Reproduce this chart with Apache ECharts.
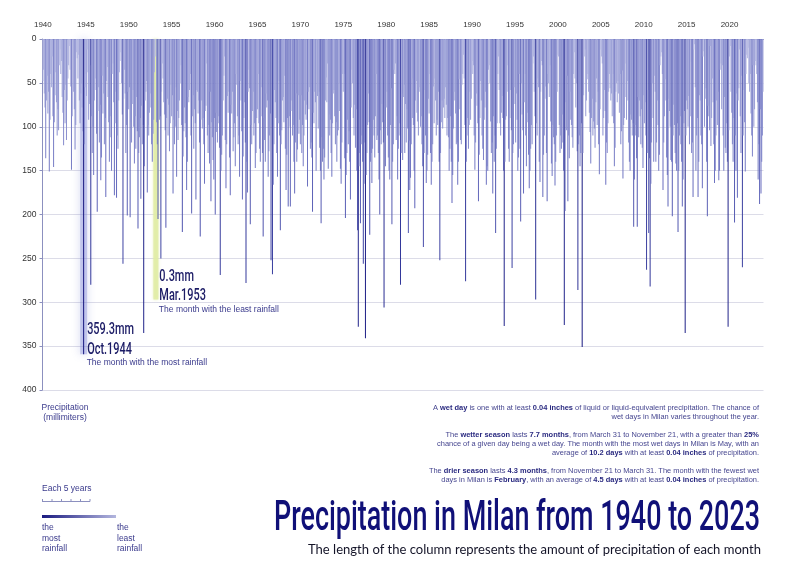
<!DOCTYPE html>
<html><head><meta charset="utf-8">
<script src="https://cdn.jsdelivr.net/npm/echarts@6/dist/echarts.min.js"></script>
<style>html,body{margin:0;padding:0;background:#fff}#c{width:800px;height:587px}</style>
</head><body><div id="c"></div><script>
const startYear = 1940;
const endYear = 2023;
const monthAbbr = ['Jan','Feb','Mar','Apr','May','Jun','Jul','Aug','Sep','Oct','Nov','Dec'];
const yMax = 400, yStep = 50;

const rain1940s = [
48,35,62,78,136,70,42,85,60,151,92,40,
55,20,88,146,95,64,38,72,110,80,104,30,
12,40,25,66,84,121,58,96,52,115,70,45,
30,8,35,54,149,88,24,60,80,126,98,15,
22,45,18,70,96,62,50,78,105,359.3,120,55,
40,65,12,38,92,74,30,280,88,130,100,155,
70,58,45,108,197,82,55,118,75,161,135,42,
85,62,120,90,180,48,32,66,95,140,112,88,
150,40,28,72,178,96,60,181,110,125,70,38,
25,15,50,86,256,68,35,62,130,98,201,60];
const rain1950s = [
80,55,203,95,118,74,58,100,142,88,125,66,
105,216,130,112,90,182,76,120,98,335,145,70,
60,48,175,98,110,84,62,78,120,140,108,92,
38,20,0.3,95,120,205,70,92,88,250,60,28,
45,72,86,104,215,90,68,110,75,128,96,52,
88,64,176,92,120,100,55,157,82,115,90,70,
50,30,98,220,134,105,78,96,112,172,140,66,
72,58,40,110,199,88,64,125,80,96,183,58,
60,85,70,118,225,92,70,102,90,120,165,82,
76,28,110,130,98,142,60,185,95,112,138,160];
const rain1960s = [
90,200,84,106,118,96,88,124,269,150,132,110,
70,42,20,115,170,120,65,84,60,135,178,75,
85,60,128,112,96,145,40,52,88,120,110,157,
48,70,105,183,134,90,72,118,278,140,175,60,
35,56,211,98,120,82,60,110,96,147,130,90,
80,40,96,125,140,88,55,130,225,90,115,140,
62,78,70,157,128,110,85,252,98,268,166,120,
58,72,90,130,157,96,48,110,218,120,104,70,
66,95,42,125,172,132,90,191,100,88,191,82,
70,110,98,140,176,118,62,140,126,64,108,92];
const rain1970s = [
120,64,130,98,145,110,70,86,92,75,168,60,
80,55,125,118,135,197,84,96,60,72,150,40,
65,102,60,124,150,210,112,140,125,160,135,70,
44,72,28,148,86,110,92,130,157,96,62,58,
88,120,95,140,110,104,50,82,148,165,118,40,
60,40,136,204,155,130,92,120,105,140,183,78,
35,50,90,110,75,124,80,150,218,328,145,130,
210,120,110,140,256,165,118,341,155,130,98,62,
95,223,140,130,164,125,92,110,135,88,40,115,
110,130,160,200,104,120,74,95,118,306,92,145];
const rain1980s = [
78,60,110,135,150,160,98,56,211,140,120,35,
40,28,115,88,160,125,110,96,280,130,62,138,
66,52,130,74,118,80,102,221,116,172,158,120,
45,90,98,150,193,70,48,84,94,110,55,60,
100,88,120,145,237,130,58,110,164,150,132,68,
85,40,130,166,140,120,54,96,45,70,110,92,
98,60,140,252,130,95,70,102,78,68,90,55,
75,110,90,112,150,125,88,140,187,155,102,60,
70,85,120,118,166,140,46,80,115,120,52,40,
18,45,98,276,140,110,90,125,98,60,92,68];
const rain1990s = [
25,40,30,110,149,118,62,76,96,185,132,90,
48,70,110,125,138,92,78,60,166,145,150,35,
30,50,94,130,118,176,88,140,110,221,125,96,
40,20,58,96,110,84,65,90,150,327,140,92,
88,60,30,125,140,90,58,104,261,130,120,55,
74,118,62,92,150,135,40,125,208,50,86,104,
176,72,40,110,145,95,84,132,170,150,125,98,
120,28,20,60,88,297,96,110,45,55,140,163,
60,25,30,180,132,110,68,54,130,185,40,50,
66,30,94,142,156,98,112,120,167,140,110,60];
const rain2000s = [
18,20,98,130,110,125,86,118,150,326,196,72,
104,42,185,110,136,60,92,98,112,124,40,15,
45,78,50,128,286,120,110,145,130,96,351,130,
64,20,12,88,70,46,40,60,84,106,142,90,
68,110,94,102,124,72,45,98,60,120,154,80,
12,20,28,110,90,58,82,166,118,130,96,60,
40,56,70,62,88,40,96,145,124,60,50,72,
48,62,84,40,120,105,36,159,98,90,66,28,
92,48,70,118,140,150,86,92,110,96,214,160,
98,110,136,214,66,112,70,88,120,80,124,147];
const rain2010s = [
64,96,72,110,263,130,58,221,136,282,165,118,
50,90,140,42,60,140,118,70,98,150,132,30,
20,15,40,172,118,88,46,70,135,155,191,68,
82,100,138,140,202,110,75,98,130,142,150,96,
220,150,110,88,120,140,191,160,96,82,335,110,
70,80,100,65,120,88,26,130,118,180,12,6,
55,150,110,90,180,140,64,70,110,120,170,20,
14,100,68,56,140,202,76,88,104,8,122,90,
45,72,120,164,150,110,70,98,60,161,150,35,
28,80,30,110,150,66,124,130,96,140,328,104];
const rain2020s = [
20,8,60,84,120,140,90,209,110,150,62,181,
70,56,12,88,130,42,260,110,58,95,151,40,
18,22,10,50,60,40,85,110,134,30,100,80,
25,30,40,72,160,120,188,80,176,140,110,60];

const rain = [].concat(rain1940s, rain1950s, rain1960s, rain1970s, rain1980s, rain1990s, rain2000s, rain2010s, rain2020s);
const months = [];
for (let y = startYear; y <= endYear; y++) for (let m = 0; m < 12; m++) months.push(y + '-' + (m + 1));

let iMax = 0, iMin = 0;
rain.forEach((v, i) => { if (v > rain[iMax]) iMax = i; if (v < rain[iMin]) iMin = i; });
const leastBandDepth = 297;
const mostBand = rain.map((v, i) => i === iMax ? v : null);
const leastBand = rain.map((v, i) => i === iMin ? leastBandDepth : null);
const monthLabel = i => monthAbbr[i % 12] + '.' + (startYear + Math.floor(i / 12));

const infoLines = [
  [['A ',0],['wet day',1],[' is one with at least ',0],['0.04 inches',1],[' of liquid or liquid-equivalent precipitation. The chance of',0]],
  [['wet days in Milan varies throughout the year.',0]],
  null,
  [['The ',0],['wetter season',1],[' lasts ',0],['7.7 months',1],[', from March 31 to November 21, with a greater than ',0],['25%',1]],
  [['chance of a given day being a wet day. The month with the most wet days in Milan is May, with an',0]],
  [['average of ',0],['10.2 days',1],[' with at least ',0],['0.04 inches',1],[' of precipitation.',0]],
  null,
  [['The ',0],['drier season',1],[' lasts ',0],['4.3 months',1],[', from November 21 to March 31. The month with the fewest wet',0]],
  [['days in Milan is ',0],['February',1],[', with an average of ',0],['4.5 days',1],[' with at least ',0],['0.04 inches',1],[' of precipitation.',0]]
];

const chart = echarts.init(document.getElementById('c'), null, {renderer: 'canvas'});
const axisCol = '#8c90bf';
const SANS = "'Liberation Sans', Arial, Helvetica, sans-serif";
chart.setOption({
  animation: false,
  backgroundColor: '#fff',
  grid: {left: 42.5, right: 36.5, top: 39, bottom: 197},
  visualMap: {show: false, type: 'continuous', seriesIndex: 2, min: 0, max: 360,
    inRange: {color: ['#bfc2e6', '#959ad4', '#666bbd', '#373c9e', '#16167f']}},
  xAxis: [{
    type: 'category', data: months, position: 'top', offset: 4,
    axisLine: {lineStyle: {color: axisCol, width: 1}},
    axisTick: {interval: (i) => i % 12 === 0, alignWithLabel: true, length: 2.5, lineStyle: {color: axisCol}},
    axisLabel: {interval: (i) => i % 60 === 0, formatter: v => v.split('-')[0], color: '#333', fontSize: 8, fontFamily: SANS, margin: 6},
    splitLine: {show: false}
  }, {
    type: 'category', data: months, show: false
  }, {
    type: 'category', data: months, show: false
  }],
  yAxis: {
    type: 'value', inverse: true, min: 0, max: yMax, interval: yStep,
    axisLine: {show: true, lineStyle: {color: axisCol}},
    axisTick: {show: true, length: 3, lineStyle: {color: axisCol}},
    axisLabel: {color: '#333', fontSize: 8.5, fontFamily: SANS, margin: 6},
    splitLine: {lineStyle: {color: '#dcdce8', width: 1}}
  },
  series: [
    {type: 'bar', xAxisIndex: 1, data: mostBand, barWidth: 7, silent: true, z: 1,
      itemStyle: {color: 'rgba(125,133,215,0.38)', shadowBlur: 8, shadowColor: 'rgba(110,118,205,0.75)'}},
    {type: 'bar', xAxisIndex: 2, data: leastBand, barWidth: 5, silent: true, z: 1,
      itemStyle: {color: 'rgba(224,236,165,0.85)', shadowBlur: 3, shadowColor: 'rgba(224,236,165,0.9)'}},
    {type: 'bar', xAxisIndex: 0, data: rain, barWidth: 1, z: 2, silent: true}
  ]
});

function measure(text, font) {
  const c = document.createElement('canvas').getContext('2d');
  c.font = font; return c.measureText(text).width;
}
const g = [];
function txt(x, y, text, font, fill, align, scaleX) {
  g.push({type: 'text', x: x, y: y, z: 100, scaleX: scaleX || 1, silent: true,
    style: {text: text, font: font, fill: fill, align: align || 'left', textAlign: align || 'left', verticalAlign: 'middle', textVerticalAlign: 'middle'}});
}
// annotations
const bigFont = "500 16.5px Roboto, sans-serif";
const bigScale = 47 / measure(rain[iMax].toFixed(1) + 'mm', bigFont);
const capFont = "8.5px " + SANS;
const navy = '#1c1c66';
const capCol = '#3a3a8c';
const pMost = chart.convertToPixel({xAxisIndex: 0, yAxisIndex: 0}, [iMax, rain[iMax]]);
txt(pMost[0] + 3.5, pMost[1] - 24, rain[iMax].toFixed(1) + 'mm', bigFont, navy, 'left', bigScale);
txt(pMost[0] + 3.5, pMost[1] - 4, monthLabel(iMax), bigFont, navy, 'left', bigScale);
txt(pMost[0] + 3, pMost[1] + 8.5, 'The month with the most rainfall', capFont, capCol, 'left');
const pLeast = chart.convertToPixel({xAxisIndex: 0, yAxisIndex: 0}, [iMin, leastBandDepth]);
txt(pLeast[0] + 3.5, pLeast[1] - 23, rain[iMin].toFixed(1) + 'mm', bigFont, navy, 'left', bigScale);
txt(pLeast[0] + 3.5, pLeast[1] - 3.5, monthLabel(iMin), bigFont, navy, 'left', bigScale);
txt(pLeast[0] + 3, pLeast[1] + 10, 'The month with the least rainfall', capFont, capCol, 'left');

// left bottom
txt(65, 407.5, 'Precipitation', capFont, capCol, 'center');
txt(65, 418, '(millimiters)', capFont, capCol, 'center');
txt(42, 489, 'Each 5 years', capFont, capCol, 'left');
g.push({type: 'line', silent: true, z: 100, shape: {x1: 42, y1: 501.5, x2: 90, y2: 501.5}, style: {stroke: axisCol, lineWidth: 1}});
for (let k = 0; k <= 5; k++) {
  const xx = 42.5 + k * 9.5;
  g.push({type: 'line', silent: true, z: 100, shape: {x1: xx, y1: 499, x2: xx, y2: 501.5}, style: {stroke: axisCol, lineWidth: 1}});
}
g.push({type: 'rect', silent: true, z: 100, shape: {x: 42, y: 515, width: 74, height: 3},
  style: {fill: new echarts.graphic.LinearGradient(0, 0, 1, 0, [{offset: 0, color: '#1a1a80'}, {offset: 1, color: '#b3b6de'}])}});
['the', 'most', 'rainfall'].forEach((t, k) => txt(42, 528 + k * 10.3, t, capFont, capCol, 'left'));
['the', 'least', 'rainfall'].forEach((t, k) => txt(117, 528 + k * 10.3, t, capFont, capCol, 'left'));

// info block
const infoFont = "7px " + SANS, infoBold = "bold 7px " + SANS;
const w0 = infoLines[0].reduce((s, p) => s + measure(p[0], p[1] ? infoBold : infoFont), 0);
const infoScale = 326 / w0;
const infoY = [407.7, 417.5, 0, 435, 444.2, 453.3, 0, 471.3, 480.3];
infoLines.forEach((line, k) => {
  if (!line) return;
  const text = line.map(p => p[1] ? '{b|' + p[0] + '}' : '{n|' + p[0] + '}').join('');
  g.push({type: 'text', x: 759, y: infoY[k], z: 100, scaleX: infoScale, silent: true,
    style: {text: text, align: 'right', textAlign: 'right', verticalAlign: 'middle', textVerticalAlign: 'middle',
      rich: {n: {font: infoFont, fill: '#45458f', fontSize: 7, fontFamily: SANS},
             b: {font: infoBold, fill: '#2a2a80', fontSize: 7, fontWeight: 'bold', fontFamily: SANS}}}});
});

// title
const titleText = 'Precipitation in Milan from ' + startYear + ' to ' + endYear;
const titleFont = "500 42px Roboto, sans-serif";
txt(274, 519, titleText, titleFont, '#101078', 'left', 486 / measure(titleText, titleFont));
const subText = 'The length of the column represents the amount of precipitation of each month';
const subFont = "13px Lato, sans-serif";
txt(308, 549.5, subText, subFont, '#141428', 'left', 453 / measure(subText, subFont));

chart.setOption({graphic: {elements: g}});
</script></body></html>
